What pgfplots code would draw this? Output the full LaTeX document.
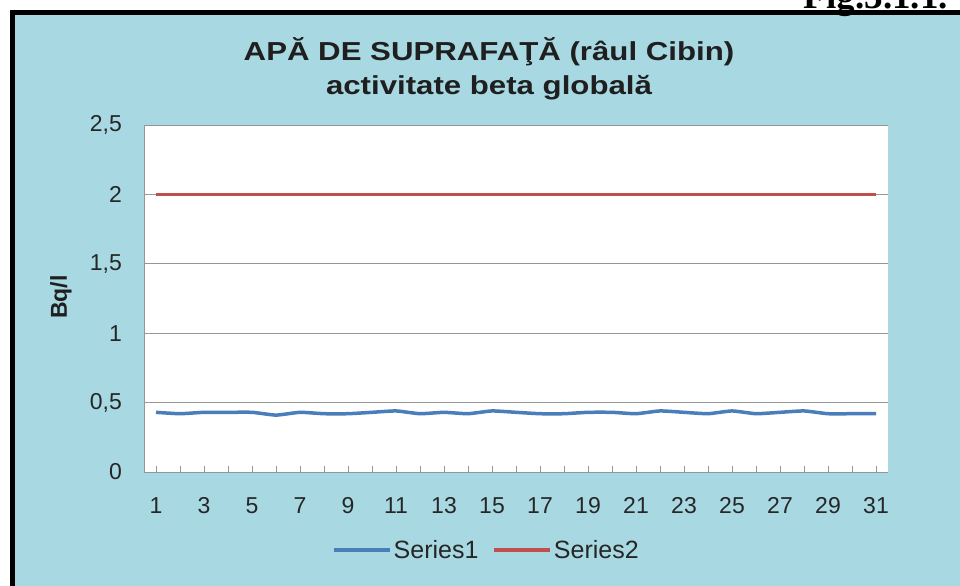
\documentclass[border=0pt]{standalone}
\usepackage{fontspec}
\setmainfont{Liberation Sans}
\newfontfamily\serifbold{Liberation Serif}
\usepackage{pgfplots}
\pgfplotsset{compat=1.18}
\definecolor{bgcyan}{RGB}{168,217,227}
\definecolor{serblue}{RGB}{74,126,187}
\definecolor{serred}{RGB}{192,80,77}
\definecolor{gridgray}{RGB}{150,150,150}
\newcommand{\fs}[1]{\fontsize{#1}{1.2\dimexpr#1\relax}\selectfont}

\begin{document}
\begin{tikzpicture}
\path[use as bounding box, clip] (0bp,0bp) rectangle (960bp,-586bp);
\fill[white] (0bp,0bp) rectangle (960bp,-586bp);
\fill[bgcyan] (10bp,-10bp) rectangle (960bp,-586bp);
\fill[black] (10bp,-10bp) rectangle (960bp,-15bp);
\fill[black] (10bp,-10bp) rectangle (15bp,-586bp);
\node[anchor=base east, inner sep=0pt, font=\serifbold\bfseries\fs{37bp}] at (948bp,-8bp) {Fig.3.1.1.};

\begin{axis}[
    at={(144bp,-472bp)}, anchor=south west,
    scale only axis,
    width=744bp, height=347bp,
    xmin=0.5, xmax=31.5,
    ymin=0, ymax=2.5,
    axis background/.style={fill=white},
    axis x line*=bottom, axis y line*=left,
    axis line style={draw=gridgray, line width=1bp},
    xtick={1,3,...,31},
    minor xtick={2,4,...,30},
    tick align=inside,
    major tick length=6bp, minor tick length=6bp,
    x tick style={draw=gridgray, line width=0.8bp},
    ytick={0,0.5,...,2.5},
    y tick style={draw=none},
    ymajorgrids,
    major grid style={draw=gridgray, line width=1bp},
    /pgf/number format/use comma,
    /pgf/number format/assume math mode=true,
    xticklabel style={font=\fs{23bp}, inner sep=0pt, yshift=-25bp, text=black!85},
    yticklabel style={font=\fs{23bp}, inner sep=0pt, xshift=-22bp, text=black!85},
    legend columns=2,
    legend style={draw=none, fill=none, inner sep=0pt,
        at={(axis description cs:0.2527,-0.2248)}, anchor=west,
        font=\fs{25bp}, text=black!85,
        nodes={inner sep=2bp},
        /tikz/every even column/.append style={column sep=12bp}},
    legend image code/.code={\draw[#1] (0bp,0bp) -- (56bp,0bp);},
]
\addplot[serblue, line width=3.5bp, smooth, tension=0.3] coordinates {
(1,0.43) (2,0.42) (3,0.43) (4,0.43) (5,0.43) (6,0.41) (7,0.43) (8,0.42)
(9,0.42) (10,0.43) (11,0.44) (12,0.42) (13,0.43) (14,0.42) (15,0.44) (16,0.43)
(17,0.42) (18,0.42) (19,0.43) (20,0.43) (21,0.42) (22,0.44) (23,0.43) (24,0.42)
(25,0.44) (26,0.42) (27,0.43) (28,0.44) (29,0.42) (30,0.42) (31,0.42)
};
\addlegendentry{Series1}
\addplot[serred, line width=3.5bp] coordinates {
(1,2) (2,2) (3,2) (4,2) (5,2) (6,2) (7,2) (8,2) (9,2) (10,2) (11,2)
(12,2) (13,2) (14,2) (15,2) (16,2) (17,2) (18,2) (19,2) (20,2) (21,2)
(22,2) (23,2) (24,2) (25,2) (26,2) (27,2) (28,2) (29,2) (30,2) (31,2)
};
\addlegendentry{Series2}
\end{axis}

\node[font=\bfseries\fs{26bp}, text=black!88, inner sep=0pt] at (489bp,-52bp) {\scalebox{1.2}[1]{APĂ DE SUPRAFAŢĂ (râul Cibin)}};
\node[font=\bfseries\fs{26bp}, text=black!88, inner sep=0pt] at (489bp,-88bp) {\scalebox{1.2}[1]{activitate beta globală}};
\node[rotate=90, font=\bfseries\fs{23bp}, text=black!88, inner sep=0pt] at (61bp,-297bp) {Bq/l};
\end{tikzpicture}
\end{document}
